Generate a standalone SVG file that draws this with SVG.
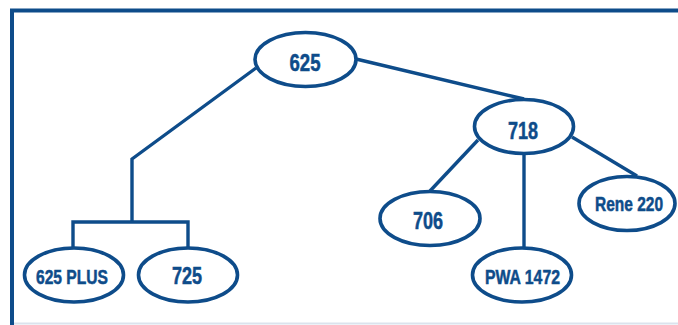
<svg xmlns="http://www.w3.org/2000/svg" width="678" height="325" viewBox="0 0 678 325">
<style>
.node ellipse{fill:#fff;stroke:#0e4c8a;stroke-width:3.6}
.node text{font-family:"Liberation Sans",Arial,sans-serif;font-weight:bold;fill:#0e4c8a;stroke:#0e4c8a;stroke-width:0.5;text-anchor:middle}
.big{font-size:23px}
.small{font-size:19.5px}
#connectors path{fill:none;stroke:#0e4c8a;stroke-width:3.4;stroke-linejoin:miter}
</style>
<rect x="0" y="0" width="678" height="325" fill="#fff"/>
<path d="M12,325 L12,10.5 L678,10.5" fill="none" stroke="#0e4c8a" stroke-width="4"/>
<line x1="14" y1="323.5" x2="678" y2="323.5" stroke="#dbe3ed" stroke-width="2"/>
<g id="connectors">
<path d="M256,68 L132,159 L132,222"/>
<path d="M73,248 L73,222 L188,222 L188,248"/>
<path d="M356,59 L524,99"/>
<path d="M478,140 L430,191"/>
<path d="M524,153 L524,248"/>
<path d="M572,137 L637,176"/>
</g>
<g id="n625" class="node"><ellipse cx="305.5" cy="59.5" rx="50.5" ry="27"/><text class="big" x="305" y="70.5" textLength="31" lengthAdjust="spacingAndGlyphs">625</text></g>
<g id="n718" class="node"><ellipse cx="524" cy="126.5" rx="49.5" ry="27"/><text class="big" x="523" y="138.5" textLength="30" lengthAdjust="spacingAndGlyphs">718</text></g>
<g id="n706" class="node"><ellipse cx="430" cy="218.5" rx="50" ry="27"/><text class="big" x="428" y="228.5" textLength="30" lengthAdjust="spacingAndGlyphs">706</text></g>
<g id="nRene220" class="node"><ellipse cx="627" cy="203.5" rx="48" ry="27"/><text class="small" x="629" y="211" textLength="68" lengthAdjust="spacingAndGlyphs">Rene 220</text></g>
<g id="n625PLUS" class="node"><ellipse cx="74" cy="275" rx="49.5" ry="27"/><text class="small" x="72" y="284" textLength="72" lengthAdjust="spacingAndGlyphs">625 PLUS</text></g>
<g id="n725" class="node"><ellipse cx="188" cy="275" rx="49.5" ry="27"/><text class="big" x="187" y="284" textLength="30" lengthAdjust="spacingAndGlyphs">725</text></g>
<g id="nPWA1472" class="node"><ellipse cx="522" cy="275" rx="49.5" ry="27"/><text class="small" x="522.5" y="284" textLength="75" lengthAdjust="spacingAndGlyphs">PWA 1472</text></g>
</svg>
